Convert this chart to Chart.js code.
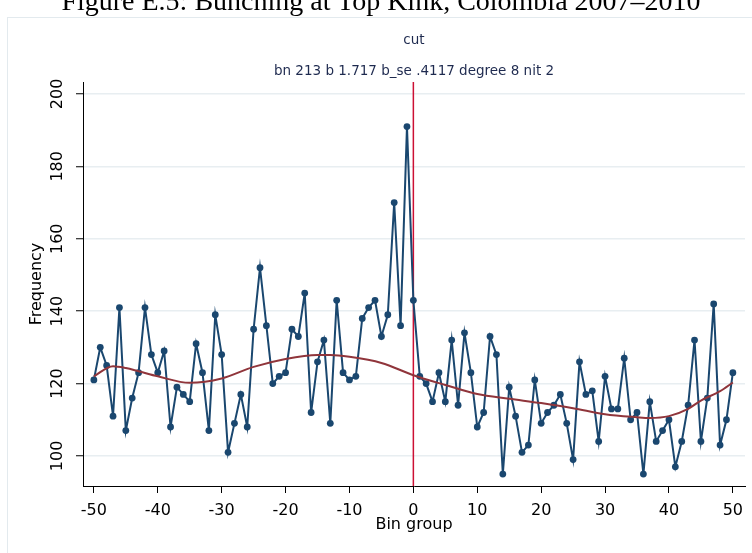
<!DOCTYPE html>
<html><head><meta charset="utf-8">
<script src="https://cdn.jsdelivr.net/npm/chart.js@4/dist/chart.umd.min.js"></script>
<style>
html,body{margin:0;padding:0;background:#fff;overflow:hidden}
#wrap{position:relative;width:752px;height:553px;overflow:hidden}
#fig{position:absolute;left:5px;width:752px;top:-13.5px;text-align:center;font:28px/28px "Liberation Serif",serif;color:#000;white-space:nowrap}
canvas{position:absolute;left:0;top:0}
</style></head><body>
<div id="wrap"><canvas id="c" width="752" height="553"></canvas><div id="fig">Figure E.5: Bunching at Top Kink, Colombia 2007–2010</div></div>
<script>
const bins = [-50,-49,-48,-47,-46,-45,-44,-43,-42,-41,-40,-39,-38,-37,-36,-35,-34,-33,-32,-31,-30,-29,-28,-27,-26,-25,-24,-23,-22,-21,-20,-19,-18,-17,-16,-15,-14,-13,-12,-11,-10,-9,-8,-7,-6,-5,-4,-3,-2,-1,0,1,2,3,4,5,6,7,8,9,10,11,12,13,14,15,16,17,18,19,20,21,22,23,24,25,26,27,28,29,30,31,32,33,34,35,36,37,38,39,40,41,42,43,44,45,46,47,48,49,50];
const frequency = [
121,130,125,111,141,107,116,123,141,128,
123,129,108,119,117,115,131,123,107,139,
128,101,109,117,108,135,152,136,120,122,
123,135,133,145,112,126,132,109,143,123,
121,122,138,141,143,133,139,170,136,191,
143,
122,120,115,123,115,132,114,134,123,108,
112,133,128,95,119,111,101,103,121,109,
112,114,117,109,99,126,117,118,104,122,
113,113,127,110,112,95,115,104,107,110,
97,104,114,132,104,116,142,103,110,123];
const fitBins   = [-50,-47,-45,-43,-40,-35,-30,-25,-20,-15,-13,-10,-5,0,5,10,15,20,25,30,35,37,40,43,45,48,50];
const fitValues = [122.0,124.8,124.3,123.4,122.0,120.2,121.4,124.6,126.8,127.9,127.9,127.4,125.7,122.3,119.6,117.1,115.8,114.6,113.2,111.5,110.7,110.5,111.0,113.0,115.3,117.9,120.3];
const cutBin = 0;
const xTicks = [-50,-40,-30,-20,-10,0,10,20,30,40,50];
const yTicks = [100,120,140,160,180,200];
const titleText = 'cut';
const subtitleText = 'bn 213 b 1.717 b_se .4117 degree 8 nit 2';
const xTitle = 'Bin group';
const yTitle = 'Frequency';
const X_MIN = -51.7, X_MAX = 51.9, Y_MIN = 91.7, Y_MAX = 203.3;

const FONT = 'DejaVu Sans';
const frame = {
  id: 'frame',
  beforeDraw(chart) {
    const ctx = chart.ctx;
    ctx.save();
    ctx.fillStyle = '#fff';
    ctx.fillRect(0, 0, chart.width, chart.height);
    ctx.strokeStyle = '#e3eaee';
    ctx.lineWidth = 1;
    ctx.strokeRect(7.5, 17.5, 900, 700);
    ctx.restore();
  }
};

new Chart(document.getElementById('c'), {
  type: 'line',
  data: {
    datasets: [
      {
        label: 'fit',
        data: fitBins.map((b, i) => ({x: b, y: fitValues[i]})),
        borderColor: '#90353b', borderWidth: 2, pointRadius: 0,
        cubicInterpolationMode: 'monotone', fill: false, order: 1
      },
      {
        label: 'frequency',
        data: bins.map((b, i) => ({x: b, y: frequency[i]})),
        borderColor: '#1a476f', backgroundColor: '#1a476f', borderWidth: 2,
        pointRadius: 3.4, pointBorderWidth: 0, pointBackgroundColor: '#1a476f',
        tension: 0, fill: false, order: 2
      },
      {
        label: 'cut',
        data: [{x: cutBin, y: Y_MIN}, {x: cutBin, y: Y_MAX}],
        borderColor: '#cc1034', borderWidth: 1.5, pointRadius: 0, fill: false, order: 3
      }
    ]
  },
  options: {
    responsive: false, animation: false, events: [],
    layout: {padding: {left: 8, right: 7, top: 17, bottom: 7}},
    plugins: {
      legend: {display: false}, tooltip: {enabled: false},
      title: {display: true, fullSize: false, text: titleText, color: '#1e2a4f',
        font: {family: FONT, size: 13.5, weight: 'normal'}, padding: {top: 14.9, bottom: 7.4}},
      subtitle: {display: true, fullSize: false, text: subtitleText, color: '#1e2a4f',
        font: {family: FONT, size: 13.5, weight: 'normal'}, padding: {top: 7.4, bottom: 2.9}}
    },
    scales: {
      x: {
        type: 'linear', min: X_MIN, max: X_MAX,
        afterBuildTicks: s => { s.ticks = xTicks.map(v => ({value: v})); },
        afterFit: s => { s.height = 60; },
        ticks: {font: {family: FONT, size: 16}, color: '#000', padding: 8, maxRotation: 0, autoSkip: false},
        grid: {drawOnChartArea: false, drawTicks: true, tickLength: 7, tickColor: '#000', tickWidth: 1},
        border: {color: '#000', width: 1},
        title: {display: true, text: xTitle, color: '#000', font: {family: FONT, size: 16}, padding: {top: 0, bottom: 11.4}}
      },
      y: {
        type: 'linear', min: Y_MIN, max: Y_MAX,
        afterBuildTicks: s => { s.ticks = yTicks.map(v => ({value: v})); },
        afterFit: s => { s.width = 75; },
        ticks: {font: {family: FONT, size: 16}, color: '#000', padding: 3, minRotation: 90, maxRotation: 90, crossAlign: 'center', autoSkip: false},
        grid: {color: '#e8eef1', lineWidth: 1.5, drawTicks: true, tickLength: 7, tickColor: '#000', tickWidth: 1},
        border: {color: '#000', width: 1},
        title: {display: true, text: yTitle, color: '#000', font: {family: FONT, size: 16}, padding: {top: 19.4, bottom: 0}}
      }
    }
  },
  plugins: [frame]
});
</script>
</body></html>
